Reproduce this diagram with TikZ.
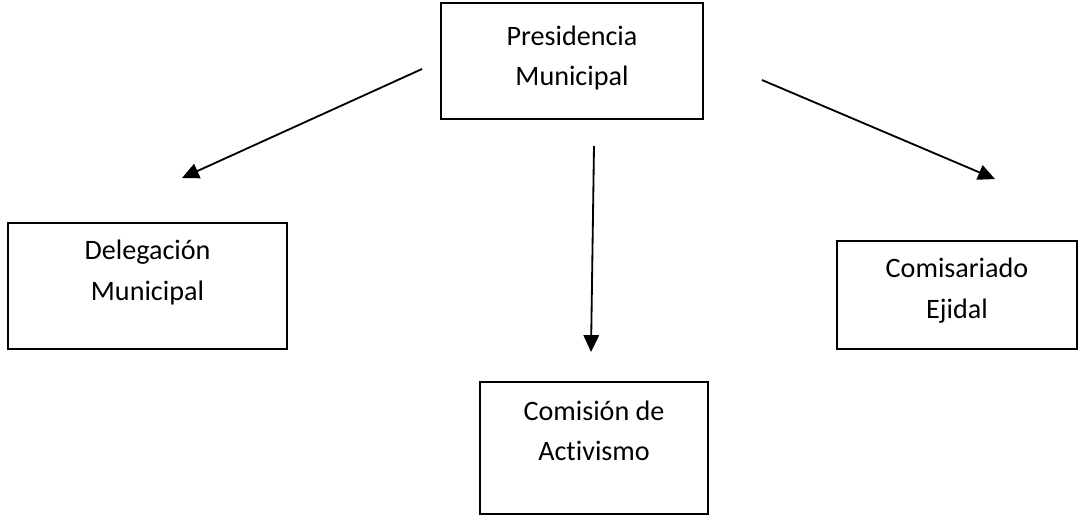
\documentclass[tikz,border=0pt]{standalone}
\usepackage{fontspec}
\setmainfont{Carlito}[Ligatures=NoCommon]
\usetikzlibrary{positioning,arrows.meta}

\begin{document}
\begin{tikzpicture}[x=0.025cm, y=-0.025cm,
	caja/.style = {draw, line width=1.3pt, inner sep=0pt},
	texto/.style = {align=center, inner sep=0pt, font=\fontsize{20}{29}\selectfont},
	flecha/.style = {line width=1.3pt, -{Triangle[length=12pt, width=11pt]}}]

	\useasboundingbox (0,0) rectangle (1080,516);

	% cajas
	\node[caja, minimum width=6.55cm, minimum height=2.9cm] (pres) at (572,61) {};
	\node[texto, below=0.58cm of pres.north] (pres-t) {Presidencia\\Municipal};

	\node[caja, minimum width=6.975cm, minimum height=3.15cm] (dele) at (147.5,286) {};
	\node[texto, below=0.45cm of dele.north] (dele-t) {Delegación\\Municipal};

	\node[caja, minimum width=6cm, minimum height=2.7cm] (comi) at (957,295) {};
	\node[texto, below=0.45cm of comi.north] (comi-t) {Comisariado\\Ejidal};

	\node[caja, minimum width=5.7cm, minimum height=3.3cm] (acti) at (594,448) {};
	\node[texto, below=0.48cm of acti.north] (acti-t) {Comisión de\\Activismo};

	% flechas
	\coordinate (izq-a) at (422,69);
	\coordinate (izq-b) at (182,178);
	\coordinate (cen-a) at (594,146);
	\coordinate (cen-b) at (591,352);
	\coordinate (der-a) at (762,80);
	\coordinate (der-b) at (995,179);
	\draw[flecha] (izq-a) -- (izq-b);
	\draw[flecha] (cen-a) -- (cen-b);
	\draw[flecha] (der-a) -- (der-b);

\end{tikzpicture}
\end{document}
